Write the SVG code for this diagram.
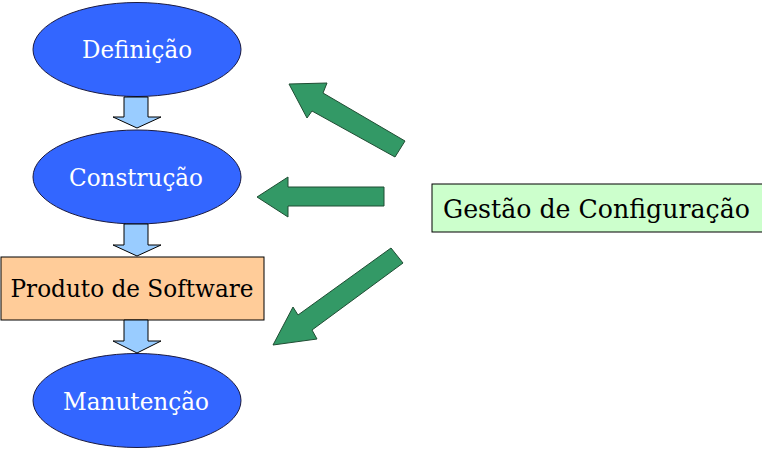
<svg xmlns="http://www.w3.org/2000/svg" width="762" height="449" viewBox="0 0 762 449">
<style>
.ell{fill:#3366FF;stroke:#1a1a40;stroke-width:1}
.et{font-family:'DejaVu Serif','Liberation Serif',serif;font-size:25px;fill:#ffffff;text-anchor:middle}
.bt{font-family:'DejaVu Serif','Liberation Serif',serif;fill:#000000;text-anchor:middle}
.blue{fill:#99CCFF;stroke:#000;stroke-width:1}
.green{fill:#339966;stroke:#1f4d33;stroke-width:1}
</style>
<rect width="762" height="449" fill="#ffffff"/>
<g id="n-definicao">
<ellipse class="ell" cx="137" cy="49.5" rx="104" ry="47"/>
<text class="et" x="137" y="58" textLength="110" lengthAdjust="spacingAndGlyphs">Definição</text>
</g>
<g id="n-construcao">
<ellipse class="ell" cx="137" cy="177" rx="104" ry="47"/>
<text class="et" x="136" y="186" textLength="134" lengthAdjust="spacingAndGlyphs">Construção</text>
</g>
<g id="n-produto">
<rect x="1" y="257" width="263" height="63" fill="#FFCC99" stroke="#000" stroke-width="1"/>
<text class="bt" x="132" y="297" font-size="25" textLength="243" lengthAdjust="spacingAndGlyphs">Produto de Software</text>
</g>
<g id="n-manutencao">
<ellipse class="ell" cx="137" cy="400.5" rx="104" ry="47"/>
<text class="et" x="136" y="410" textLength="146" lengthAdjust="spacingAndGlyphs">Manutenção</text>
</g>
<g id="n-gestao">
<rect x="432" y="184" width="335" height="48" fill="#CCFFCC" stroke="#000" stroke-width="1"/>
<text class="bt" x="596.5" y="218" font-size="26" textLength="307" lengthAdjust="spacingAndGlyphs">Gestão de Configuração</text>
</g>
<g id="connectors">
<polygon class="blue" points="124,97 148,97 148,117 161,117 137,128 113,117 124,117"/>
<polygon class="blue" points="124,224 148,224 148,245 161,245 137,256 113,245 124,245"/>
<polygon class="blue" points="124,320 148,320 148,341 161,341 137,353 113,341 124,341"/>
<polygon class="green" points="289,84 327,83 323,93 405,141 395,157 312,111 307,118"/>
<polygon class="green" points="257,197 288,177 288,187 384,187 384,206 288,206 288,217"/>
<polygon class="green" points="273,345 293,307 298,315 391,248 403,263 312,330 317,339"/>
</g>
</svg>
